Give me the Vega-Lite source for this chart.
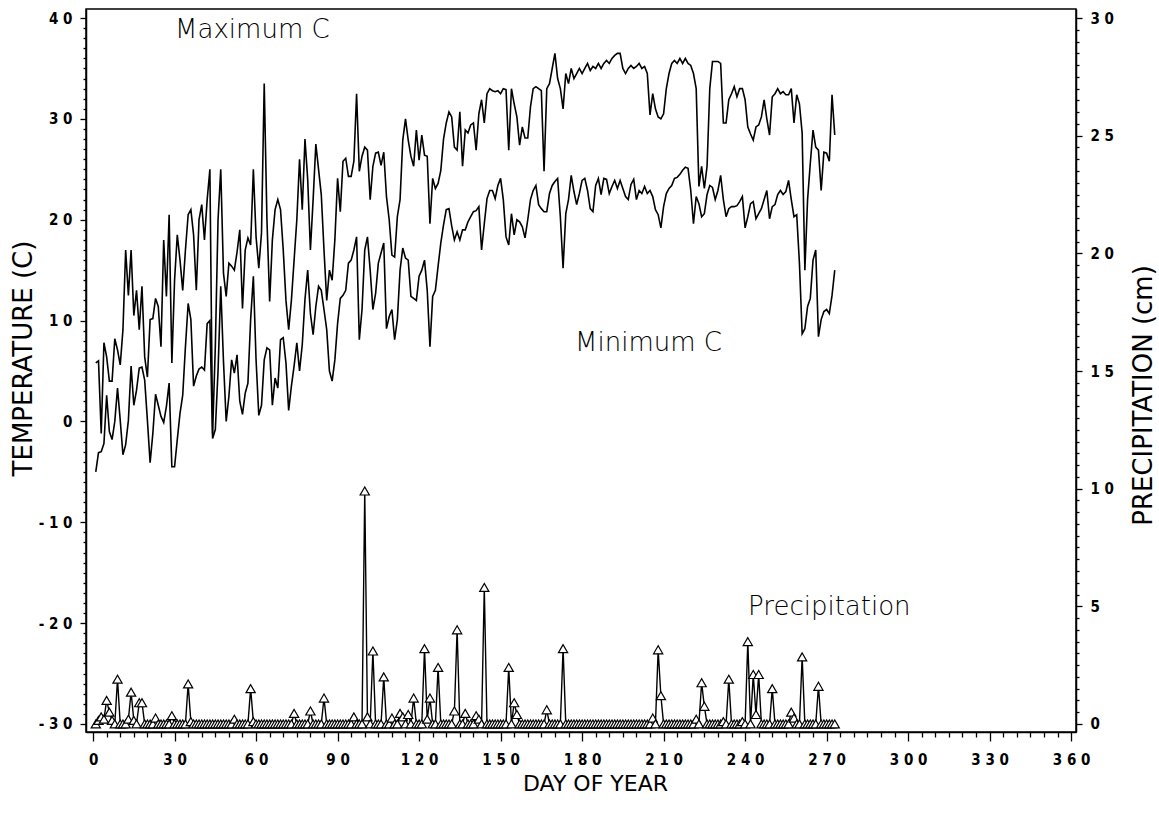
{
"$schema": "https://vega.github.io/schema/vega-lite/v6.json",
"width": 990, "height": 723,
"autosize": {"type": "none"},
"padding": {"left": 86, "top": 9, "right": 83, "bottom": 84},
"background": "white",
"config": {
 "view": {"stroke": "black", "strokeWidth": 1.5},
 "axis": {"domainColor": "black", "domainWidth": 1.5, "tickColor": "black", "tickWidth": 1.3, "labelColor": "black", "titleColor": "black", "grid": false,
  "labelFont": "Liberation Sans Narrow, DejaVu Sans Condensed, Liberation Sans", "labelFontSize": 15, "labelFontWeight": "bold", "titleFont": "DejaVu Sans", "titleFontSize": 22, "titleFontWeight": "normal",
  "labelOverlap": false, "labelBound": false, "labelFlush": false}
},
"data": {"values": [
{"day":1,"tmax":5.8,"tmin":-5.0,"precip":0},{"day":2,"tmax":6.0,"tmin":-3.1,"precip":0.15},{"day":3,"tmax":-1.2,"tmin":-3.0,"precip":0.3},{"day":4,"tmax":7.8,"tmin":-2.2,"precip":0.2},{"day":5,"tmax":6.4,"tmin":2.6,"precip":1.0},
{"day":6,"tmax":4.0,"tmin":-1.0,"precip":0.5},{"day":7,"tmax":4.0,"tmin":-1.8,"precip":0.15},{"day":8,"tmax":8.2,"tmin":0.0,"precip":0},{"day":9,"tmax":7.1,"tmin":3.3,"precip":1.9},{"day":10,"tmax":5.6,"tmin":0.1,"precip":0},
{"day":11,"tmax":9.1,"tmin":-3.3,"precip":0},{"day":12,"tmax":17.0,"tmin":-2.3,"precip":0},{"day":13,"tmax":12.5,"tmin":0.1,"precip":0.2},{"day":14,"tmax":17.0,"tmin":5.5,"precip":1.35},{"day":15,"tmax":10.5,"tmin":1.6,"precip":0.15},
{"day":16,"tmax":13.0,"tmin":3.1,"precip":0},{"day":17,"tmax":9.1,"tmin":5.3,"precip":0.9},{"day":18,"tmax":13.4,"tmin":5.4,"precip":0.9},{"day":19,"tmax":6.4,"tmin":4.1,"precip":0},{"day":20,"tmax":4.4,"tmin":0.1,"precip":0},
{"day":21,"tmax":10.1,"tmin":-4.1,"precip":0},{"day":22,"tmax":10.2,"tmin":-1.2,"precip":0},{"day":23,"tmax":12.2,"tmin":2.7,"precip":0.25},{"day":24,"tmax":11.4,"tmin":1.6,"precip":0},{"day":25,"tmax":7.4,"tmin":0.5,"precip":0},
{"day":26,"tmax":18.0,"tmin":-0.1,"precip":0},{"day":27,"tmax":12.4,"tmin":1.5,"precip":0},{"day":28,"tmax":20.5,"tmin":3.8,"precip":0},{"day":29,"tmax":5.8,"tmin":-4.5,"precip":0.35},{"day":30,"tmax":14.0,"tmin":-4.5,"precip":0},
{"day":31,"tmax":18.5,"tmin":-1.8,"precip":0},{"day":32,"tmax":16.0,"tmin":0.8,"precip":0},{"day":33,"tmax":13.0,"tmin":2.6,"precip":0},{"day":34,"tmax":17.0,"tmin":7.4,"precip":0},{"day":35,"tmax":20.5,"tmin":11.7,"precip":1.7},
{"day":36,"tmax":21.0,"tmin":10.1,"precip":0.1},{"day":37,"tmax":18.5,"tmin":3.5,"precip":0},{"day":38,"tmax":13.0,"tmin":4.5,"precip":0},{"day":39,"tmax":20.0,"tmin":5.2,"precip":0},{"day":40,"tmax":21.5,"tmin":5.4,"precip":0},
{"day":41,"tmax":18.0,"tmin":5.1,"precip":0},{"day":42,"tmax":22.0,"tmin":9.7,"precip":0},{"day":43,"tmax":25.0,"tmin":10.0,"precip":0},{"day":44,"tmax":-1.2,"tmin":-1.7,"precip":0},{"day":45,"tmax":7.4,"tmin":-0.8,"precip":0},
{"day":46,"tmax":20.0,"tmin":5.0,"precip":0},{"day":47,"tmax":25.0,"tmin":13.4,"precip":0},{"day":48,"tmax":14.7,"tmin":6.0,"precip":0},{"day":49,"tmax":12.4,"tmin":0.0,"precip":0},{"day":50,"tmax":15.7,"tmin":2.5,"precip":0},
{"day":51,"tmax":15.4,"tmin":6.1,"precip":0},{"day":52,"tmax":15.0,"tmin":4.8,"precip":0.2},{"day":53,"tmax":16.8,"tmin":6.6,"precip":0},{"day":54,"tmax":19.0,"tmin":2.0,"precip":0},{"day":55,"tmax":11.2,"tmin":0.7,"precip":0},
{"day":56,"tmax":17.0,"tmin":2.8,"precip":0},{"day":57,"tmax":18.2,"tmin":3.8,"precip":0},{"day":58,"tmax":17.5,"tmin":10.1,"precip":1.5},{"day":59,"tmax":25.0,"tmin":14.4,"precip":0.1},{"day":60,"tmax":18.3,"tmin":6.1,"precip":0},
{"day":61,"tmax":15.2,"tmin":0.6,"precip":0},{"day":62,"tmax":18.7,"tmin":1.6,"precip":0},{"day":63,"tmax":33.5,"tmin":6.1,"precip":0},{"day":64,"tmax":20.0,"tmin":7.3,"precip":0},{"day":65,"tmax":11.9,"tmin":7.1,"precip":0},
{"day":66,"tmax":18.0,"tmin":1.6,"precip":0},{"day":67,"tmax":21.0,"tmin":4.3,"precip":0},{"day":68,"tmax":22.0,"tmin":3.3,"precip":0},{"day":69,"tmax":21.0,"tmin":8.1,"precip":0},{"day":70,"tmax":17.0,"tmin":8.3,"precip":0},
{"day":71,"tmax":12.0,"tmin":5.8,"precip":0},{"day":72,"tmax":9.1,"tmin":1.1,"precip":0},{"day":73,"tmax":12.0,"tmin":3.5,"precip":0},{"day":74,"tmax":16.0,"tmin":5.5,"precip":0.45},{"day":75,"tmax":20.0,"tmin":7.8,"precip":0},
{"day":76,"tmax":26.0,"tmin":5.0,"precip":0},{"day":77,"tmax":21.0,"tmin":7.6,"precip":0},{"day":78,"tmax":28.0,"tmin":12.1,"precip":0},{"day":79,"tmax":24.0,"tmin":15.0,"precip":0},{"day":80,"tmax":17.0,"tmin":10.7,"precip":0.55},
{"day":81,"tmax":22.0,"tmin":8.6,"precip":0},{"day":82,"tmax":27.5,"tmin":11.4,"precip":0},{"day":83,"tmax":25.0,"tmin":13.4,"precip":0},{"day":84,"tmax":22.5,"tmin":13.0,"precip":0},{"day":85,"tmax":17.0,"tmin":11.1,"precip":1.1},
{"day":86,"tmax":12.0,"tmin":9.1,"precip":0},{"day":87,"tmax":15.0,"tmin":5.0,"precip":0},{"day":88,"tmax":14.0,"tmin":4.0,"precip":0},{"day":89,"tmax":18.0,"tmin":6.1,"precip":0},{"day":90,"tmax":24.1,"tmin":9.7,"precip":0},
{"day":91,"tmax":20.8,"tmin":12.2,"precip":0},{"day":92,"tmax":25.8,"tmin":12.5,"precip":0},{"day":93,"tmax":26.1,"tmin":13.0,"precip":0},{"day":94,"tmax":24.3,"tmin":15.7,"precip":0},{"day":95,"tmax":24.3,"tmin":16.0,"precip":0},
{"day":96,"tmax":25.8,"tmin":17.0,"precip":0.3},{"day":97,"tmax":32.5,"tmin":18.3,"precip":0},{"day":98,"tmax":24.8,"tmin":8.1,"precip":0},{"day":99,"tmax":26.3,"tmin":11.1,"precip":0},{"day":100,"tmax":27.2,"tmin":17.0,"precip":9.9},
{"day":101,"tmax":26.9,"tmin":18.3,"precip":0.3},{"day":102,"tmax":22.0,"tmin":15.0,"precip":0},{"day":103,"tmax":25.3,"tmin":11.1,"precip":3.1},{"day":104,"tmax":26.6,"tmin":12.7,"precip":0},{"day":105,"tmax":26.7,"tmin":15.7,"precip":0},
{"day":106,"tmax":25.4,"tmin":16.7,"precip":0},{"day":107,"tmax":26.7,"tmin":17.7,"precip":2.0},{"day":108,"tmax":22.3,"tmin":9.2,"precip":0},{"day":109,"tmax":20.0,"tmin":10.4,"precip":0},{"day":110,"tmax":16.5,"tmin":11.1,"precip":0.25},
{"day":111,"tmax":16.3,"tmin":8.1,"precip":0},{"day":112,"tmax":20.3,"tmin":10.1,"precip":0},{"day":113,"tmax":22.0,"tmin":15.0,"precip":0.45},{"day":114,"tmax":27.9,"tmin":17.2,"precip":0.3},{"day":115,"tmax":30.0,"tmin":16.2,"precip":0},
{"day":116,"tmax":27.9,"tmin":16.0,"precip":0.4},{"day":117,"tmax":26.3,"tmin":12.4,"precip":0},{"day":118,"tmax":25.3,"tmin":12.2,"precip":1.1},{"day":119,"tmax":28.9,"tmin":12.0,"precip":0},{"day":120,"tmax":25.9,"tmin":14.4,"precip":0},
{"day":121,"tmax":28.4,"tmin":15.0,"precip":0},{"day":122,"tmax":26.4,"tmin":16.0,"precip":3.2},{"day":123,"tmax":26.3,"tmin":13.0,"precip":0.2},{"day":124,"tmax":19.6,"tmin":7.4,"precip":1.1},{"day":125,"tmax":24.1,"tmin":12.4,"precip":0},
{"day":126,"tmax":23.1,"tmin":13.0,"precip":0},{"day":127,"tmax":23.6,"tmin":15.4,"precip":2.4},{"day":128,"tmax":24.9,"tmin":17.7,"precip":0},{"day":129,"tmax":28.0,"tmin":19.5,"precip":0},{"day":130,"tmax":29.6,"tmin":21.0,"precip":0},
{"day":131,"tmax":30.7,"tmin":21.1,"precip":0},{"day":132,"tmax":30.2,"tmin":19.4,"precip":0},{"day":133,"tmax":27.2,"tmin":18.0,"precip":0.55},{"day":134,"tmax":26.9,"tmin":18.8,"precip":4.0},{"day":135,"tmax":30.7,"tmin":18.0,"precip":0},
{"day":136,"tmax":25.3,"tmin":19.0,"precip":0},{"day":137,"tmax":28.9,"tmin":19.0,"precip":0.45},{"day":138,"tmax":28.6,"tmin":19.8,"precip":0},{"day":139,"tmax":29.4,"tmin":20.3,"precip":0},{"day":140,"tmax":29.6,"tmin":20.8,"precip":0},
{"day":141,"tmax":26.9,"tmin":20.9,"precip":0.35},{"day":142,"tmax":30.5,"tmin":21.3,"precip":0.2},{"day":143,"tmax":31.9,"tmin":17.0,"precip":0},{"day":144,"tmax":29.6,"tmin":19.6,"precip":5.8},{"day":145,"tmax":32.5,"tmin":22.1,"precip":0},
{"day":146,"tmax":33.0,"tmin":22.9,"precip":0},{"day":147,"tmax":32.8,"tmin":22.9,"precip":0},{"day":148,"tmax":32.7,"tmin":22.1,"precip":0},{"day":149,"tmax":32.8,"tmin":23.4,"precip":0},{"day":150,"tmax":32.5,"tmin":24.1,"precip":0},
{"day":151,"tmax":33.0,"tmin":22.0,"precip":0},{"day":152,"tmax":32.9,"tmin":18.3,"precip":0},{"day":153,"tmax":26.9,"tmin":17.5,"precip":2.4},{"day":154,"tmax":33.0,"tmin":20.6,"precip":0},{"day":155,"tmax":31.5,"tmin":18.5,"precip":0.9},
{"day":156,"tmax":30.2,"tmin":20.0,"precip":0.4},{"day":157,"tmax":27.4,"tmin":19.8,"precip":0},{"day":158,"tmax":29.2,"tmin":19.3,"precip":0},{"day":159,"tmax":28.1,"tmin":18.2,"precip":0},{"day":160,"tmax":28.1,"tmin":20.0,"precip":0},
{"day":161,"tmax":31.2,"tmin":22.0,"precip":0},{"day":162,"tmax":33.0,"tmin":22.9,"precip":0},{"day":163,"tmax":33.2,"tmin":23.4,"precip":0},{"day":164,"tmax":33.0,"tmin":21.5,"precip":0},{"day":165,"tmax":32.8,"tmin":21.1,"precip":0},
{"day":166,"tmax":24.8,"tmin":20.8,"precip":0},{"day":167,"tmax":33.0,"tmin":20.8,"precip":0.6},{"day":168,"tmax":33.5,"tmin":22.6,"precip":0},{"day":169,"tmax":35.0,"tmin":23.4,"precip":0},{"day":170,"tmax":36.5,"tmin":23.8,"precip":0},
{"day":171,"tmax":34.0,"tmin":24.1,"precip":0},{"day":172,"tmax":33.0,"tmin":20.3,"precip":0},{"day":173,"tmax":31.0,"tmin":15.2,"precip":3.2},{"day":174,"tmax":34.5,"tmin":20.6,"precip":0},{"day":175,"tmax":33.5,"tmin":22.0,"precip":0},
{"day":176,"tmax":35.0,"tmin":24.4,"precip":0},{"day":177,"tmax":34.0,"tmin":22.8,"precip":0},{"day":178,"tmax":34.5,"tmin":21.5,"precip":0},{"day":179,"tmax":35.0,"tmin":22.6,"precip":0},{"day":180,"tmax":34.5,"tmin":23.9,"precip":0},
{"day":181,"tmax":35.0,"tmin":24.1,"precip":0},{"day":182,"tmax":35.5,"tmin":22.9,"precip":0},{"day":183,"tmax":34.8,"tmin":21.1,"precip":0},{"day":184,"tmax":35.2,"tmin":20.8,"precip":0},{"day":185,"tmax":35.0,"tmin":23.4,"precip":0},
{"day":186,"tmax":35.5,"tmin":24.1,"precip":0},{"day":187,"tmax":35.0,"tmin":22.5,"precip":0},{"day":188,"tmax":35.5,"tmin":24.1,"precip":0},{"day":189,"tmax":35.8,"tmin":24.0,"precip":0},{"day":190,"tmax":35.5,"tmin":22.6,"precip":0},
{"day":191,"tmax":36.0,"tmin":23.3,"precip":0},{"day":192,"tmax":36.3,"tmin":23.9,"precip":0},{"day":193,"tmax":36.5,"tmin":23.1,"precip":0},{"day":194,"tmax":36.5,"tmin":23.9,"precip":0},{"day":195,"tmax":35.0,"tmin":23.1,"precip":0},
{"day":196,"tmax":34.5,"tmin":22.3,"precip":0},{"day":197,"tmax":35.0,"tmin":22.0,"precip":0},{"day":198,"tmax":35.3,"tmin":23.5,"precip":0},{"day":199,"tmax":35.0,"tmin":24.0,"precip":0},{"day":200,"tmax":35.2,"tmin":22.0,"precip":0},
{"day":201,"tmax":35.5,"tmin":22.9,"precip":0},{"day":202,"tmax":35.0,"tmin":22.6,"precip":0},{"day":203,"tmax":35.2,"tmin":23.3,"precip":0},{"day":204,"tmax":34.5,"tmin":22.6,"precip":0},{"day":205,"tmax":30.4,"tmin":22.9,"precip":0},
{"day":206,"tmax":32.5,"tmin":22.3,"precip":0.25},{"day":207,"tmax":31.0,"tmin":21.0,"precip":0},{"day":208,"tmax":30.2,"tmin":20.5,"precip":3.15},{"day":209,"tmax":30.0,"tmin":19.2,"precip":1.2},{"day":210,"tmax":30.5,"tmin":21.3,"precip":0},
{"day":211,"tmax":33.0,"tmin":22.6,"precip":0},{"day":212,"tmax":34.5,"tmin":23.1,"precip":0},{"day":213,"tmax":35.5,"tmin":23.4,"precip":0},{"day":214,"tmax":35.8,"tmin":24.1,"precip":0},{"day":215,"tmax":35.5,"tmin":24.2,"precip":0},
{"day":216,"tmax":36.0,"tmin":24.5,"precip":0},{"day":217,"tmax":35.5,"tmin":24.9,"precip":0},{"day":218,"tmax":36.0,"tmin":25.2,"precip":0},{"day":219,"tmax":35.5,"tmin":25.1,"precip":0},{"day":220,"tmax":35.3,"tmin":22.9,"precip":0},
{"day":221,"tmax":34.5,"tmin":19.6,"precip":0},{"day":222,"tmax":33.0,"tmin":22.3,"precip":0.2},{"day":223,"tmax":23.3,"tmin":21.6,"precip":0},{"day":224,"tmax":25.3,"tmin":20.3,"precip":1.75},{"day":225,"tmax":23.1,"tmin":20.6,"precip":0.75},
{"day":226,"tmax":25.3,"tmin":22.5,"precip":0},{"day":227,"tmax":33.0,"tmin":23.4,"precip":0},{"day":228,"tmax":35.7,"tmin":23.2,"precip":0},{"day":229,"tmax":35.7,"tmin":22.0,"precip":0},{"day":230,"tmax":35.7,"tmin":22.9,"precip":0},
{"day":231,"tmax":35.5,"tmin":24.4,"precip":0},{"day":232,"tmax":29.6,"tmin":22.0,"precip":0.1},{"day":233,"tmax":29.6,"tmin":20.3,"precip":0},{"day":234,"tmax":31.9,"tmin":21.1,"precip":1.9},{"day":235,"tmax":32.5,"tmin":21.3,"precip":0},
{"day":236,"tmax":33.2,"tmin":21.3,"precip":0},{"day":237,"tmax":32.2,"tmin":21.4,"precip":0},{"day":238,"tmax":33.0,"tmin":21.8,"precip":0},{"day":239,"tmax":33.0,"tmin":22.3,"precip":0.1},{"day":240,"tmax":31.9,"tmin":19.2,"precip":0},
{"day":241,"tmax":29.2,"tmin":20.3,"precip":3.5},{"day":242,"tmax":28.5,"tmin":21.6,"precip":0},{"day":243,"tmax":27.9,"tmin":21.8,"precip":2.1},{"day":244,"tmax":29.2,"tmin":20.1,"precip":0.4},{"day":245,"tmax":29.4,"tmin":20.6,"precip":2.1},
{"day":246,"tmax":30.2,"tmin":21.1,"precip":0},{"day":247,"tmax":31.9,"tmin":22.0,"precip":0},{"day":248,"tmax":30.0,"tmin":22.9,"precip":0},{"day":249,"tmax":28.4,"tmin":20.1,"precip":0},{"day":250,"tmax":32.2,"tmin":21.3,"precip":1.5},
{"day":251,"tmax":32.5,"tmin":21.5,"precip":0},{"day":252,"tmax":33.0,"tmin":22.5,"precip":0},{"day":253,"tmax":32.5,"tmin":22.9,"precip":0},{"day":254,"tmax":32.7,"tmin":22.5,"precip":0},{"day":255,"tmax":32.4,"tmin":22.8,"precip":0},
{"day":256,"tmax":32.4,"tmin":23.9,"precip":0},{"day":257,"tmax":33.0,"tmin":22.0,"precip":0.5},{"day":258,"tmax":29.6,"tmin":20.3,"precip":0.25},{"day":259,"tmax":32.4,"tmin":20.5,"precip":0},{"day":260,"tmax":31.5,"tmin":15.7,"precip":0},
{"day":261,"tmax":28.6,"tmin":8.7,"precip":2.85},{"day":262,"tmax":15.0,"tmin":9.2,"precip":0},{"day":263,"tmax":22.0,"tmin":11.4,"precip":0},{"day":264,"tmax":25.6,"tmin":12.2,"precip":0},{"day":265,"tmax":28.9,"tmin":16.0,"precip":0},
{"day":266,"tmax":27.2,"tmin":17.0,"precip":0},{"day":267,"tmax":26.9,"tmin":8.4,"precip":1.6},{"day":268,"tmax":22.9,"tmin":10.1,"precip":0},{"day":269,"tmax":26.7,"tmin":10.9,"precip":0},{"day":270,"tmax":26.6,"tmin":11.1,"precip":0},
{"day":271,"tmax":25.8,"tmin":10.7,"precip":0},{"day":272,"tmax":32.4,"tmin":12.5,"precip":0},{"day":273,"tmax":28.4,"tmin":15.0,"precip":0}
]},
"encoding": {
 "x": {"field": "day", "type": "quantitative",
  "scale": {"domain": [-2.6, 361.8], "nice": false, "zero": false},
  "axis": {"values": [0,5,10,15,20,25,30,35,40,45,50,55,60,65,70,75,80,85,90,95,100,105,110,115,120,125,130,135,140,145,150,155,160,165,170,175,180,185,190,195,200,205,210,215,220,225,230,235,240,245,250,255,260,265,270,275,280,285,290,295,300,305,310,315,320,325,330,335,340,345,350,355,360],
   "labelExpr": "datum.value % 30 === 0 ? join(split(toString(datum.value), ''), ' ') : ''",
   "tickSize": {"condition": {"test": "datum.value % 30 === 0", "value": 9}, "value": 5},
   "labelPadding": 11,
   "title": "DAY OF YEAR", "titleX": 509, "titleY": 58, "titleAlign": "center", "titleBaseline": "alphabetic"}}
},
"layer": [
  {"mark": {"type": "line", "color": "black", "strokeWidth": 1.6},
   "encoding": {"y": {"field": "tmax", "type": "quantitative",
    "scale": {"domain": [-30.8, 40.9], "nice": false, "zero": false},
    "axis": {"orient": "left", "values": [-30,-29,-28,-27,-26,-25,-24,-23,-22,-21,-20,-19,-18,-17,-16,-15,-14,-13,-12,-11,-10,-9,-8,-7,-6,-5,-4,-3,-2,-1,0,1,2,3,4,5,6,7,8,9,10,11,12,13,14,15,16,17,18,19,20,21,22,23,24,25,26,27,28,29,30,31,32,33,34,35,36,37,38,39,40],
     "labelExpr": "datum.value % 10 === 0 ? join(split(toString(datum.value), ''), ' ') : ''",
     "tickSize": {"condition": {"test": "datum.value % 10 === 0", "value": 6}, "value": 3},
     "labelPadding": 8,
     "title": "TEMPERATURE (C)", "titleFontSize": 26, "titleAngle": 270, "titleX": -55, "titleY": 349, "titleAlign": "center", "titleBaseline": "alphabetic"}}}},
  {"mark": {"type": "line", "color": "black", "strokeWidth": 1.6},
   "encoding": {"y": {"field": "tmin", "type": "quantitative",
    "scale": {"domain": [-30.8, 40.9], "nice": false, "zero": false}, "axis": null}}},
  {"data": {"values": [
    {"day": 30.2, "temp": 38.8, "label": "Maximum C"},
    {"day": 177.4, "temp": 7.8, "label": "Minimum C"},
    {"day": 241.1, "temp": -18.4, "label": "Precipitation"}]},
   "mark": {"type": "text", "align": "left", "baseline": "middle", "font": "DejaVu Sans", "fontSize": 26, "fontWeight": 300, "color": "black"},
   "encoding": {"y": {"field": "temp", "type": "quantitative",
    "scale": {"domain": [-30.8, 40.9], "nice": false, "zero": false}, "axis": null},
    "text": {"field": "label"}}},
  {"mark": {"type": "line", "color": "black", "strokeWidth": 1.4},
   "encoding": {"y": {"field": "precip", "type": "quantitative",
    "scale": {"domain": [-0.343, 30.386], "nice": false, "zero": false},
    "axis": {"orient": "right", "values": [0,0.5,1,1.5,2,2.5,3,3.5,4,4.5,5,5.5,6,6.5,7,7.5,8,8.5,9,9.5,10,10.5,11,11.5,12,12.5,13,13.5,14,14.5,15,15.5,16,16.5,17,17.5,18,18.5,19,19.5,20,20.5,21,21.5,22,22.5,23,23.5,24,24.5,25,25.5,26,26.5,27,27.5,28,28.5,29,29.5,30],
     "labelExpr": "datum.value % 5 === 0 ? join(split(toString(datum.value), ''), ' ') : ''",
     "tickSize": {"condition": {"test": "datum.value % 5 === 0", "value": 6}, "value": 3},
     "labelPadding": 8,
     "title": "PRECIPITATION (cm)", "titleFontSize": 26, "titleAngle": 270, "titleX": 75, "titleY": 386, "titleAlign": "center", "titleBaseline": "alphabetic"}}}},
  {"mark": {"type": "point", "shape": "triangle-up", "filled": true, "fill": "white", "stroke": "black", "strokeWidth": 1.2, "size": 85, "opacity": 1},
   "encoding": {"y": {"field": "precip", "type": "quantitative",
    "scale": {"domain": [-0.343, 30.386], "nice": false, "zero": false}, "axis": null}}}
],
"resolve": {"scale": {"y": "independent"}}
}
